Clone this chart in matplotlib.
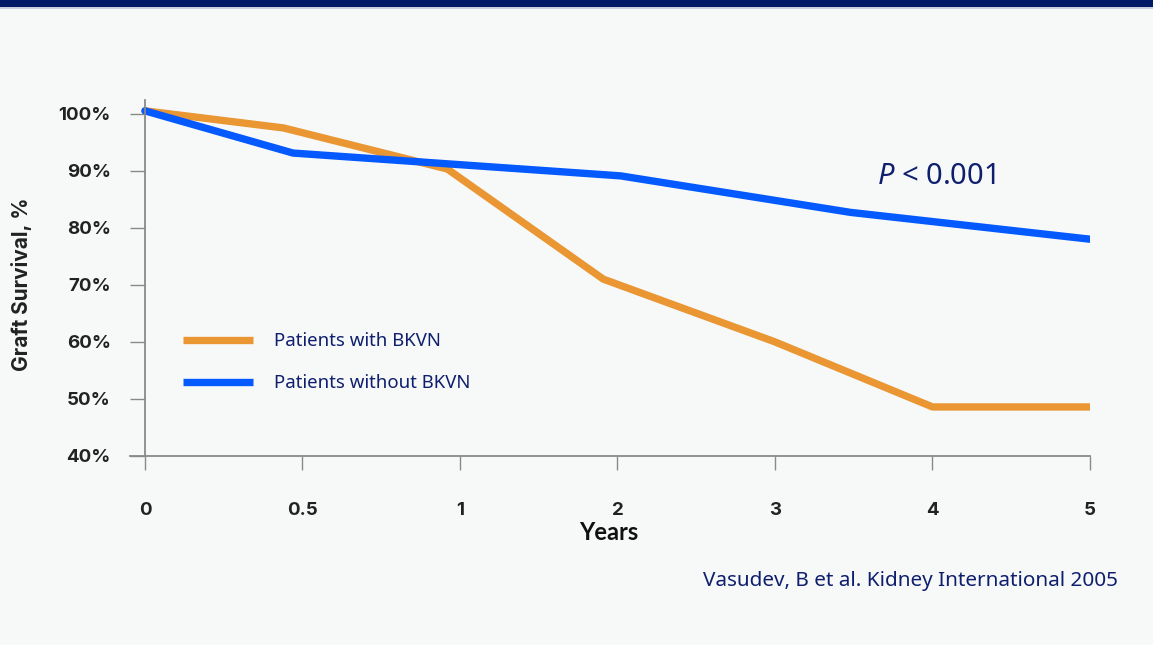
import numpy as np
import matplotlib
matplotlib.use("Agg")
import matplotlib.pyplot as plt
from matplotlib.patches import Rectangle

# axis ticks (unevenly spaced on the chart)
tick_years = [0, 0.5, 1, 2, 3, 4, 5]
tick_labels = ["0", "0.5", "1", "2", "3", "4", "5"]
y_ticks = [40, 50, 60, 70, 80, 90, 100]

bkvn_years = [0, 0.44, 0.96, 1.91, 3.0, 4.0, 5.02]
bkvn_surv = [100.5, 97.5, 90.3, 71.0, 60.0, 48.6, 48.6]

nobkvn_years = [0, 0.47, 2.02, 3.48, 5.0]
nobkvn_surv = [100.5, 93.1, 89.1, 82.7, 78.0]

ORANGE = "#E99633"
BLUE = "#0459FF"
NAVY = "#0F1F6E"
BG = "#F7F9F9"

plt.rcParams["mathtext.fontset"] = "custom"
plt.rcParams["mathtext.it"] = "Noto Sans:italic"
plt.rcParams["mathtext.rm"] = "Noto Sans"

tick_pos = np.arange(len(tick_years))


def to_pos(years):
    # map years onto the evenly spaced tick positions, allow a bit past the end
    years = np.asarray(years, dtype=float)
    p = np.interp(years, tick_years, tick_pos)
    over = years > tick_years[-1]
    p[over] = tick_pos[-1] + (years[over] - tick_years[-1])
    return p


W, H = 1153, 645
fig = plt.figure(figsize=(W / 100, H / 100), dpi=100, facecolor=BG)
fig.add_artist(Rectangle((0, 1 - 7 / H), 1, 7 / H, transform=fig.transFigure,
                         color="#001866", lw=0))
fig.add_artist(Rectangle((0, 1 - 9 / H), 1, 2 / H, transform=fig.transFigure,
                         color="#C9CFDE", lw=0))

ax = fig.add_axes([130 / W, (H - 456) / H, 960 / W, 356 / H])
ax.set_facecolor(BG)

ax.plot(to_pos(bkvn_years), bkvn_surv, color=ORANGE, lw=5.3,
        solid_capstyle="round", solid_joinstyle="round", label="Patients with BKVN")
ax.plot(to_pos(nobkvn_years), nobkvn_surv, color=BLUE, lw=5.3,
        solid_capstyle="round", solid_joinstyle="round", label="Patients without BKVN")

ax.set_xlim(-0.095, 6.0)
ax.set_ylim(40, 102.4)

for s in ["top", "right"]:
    ax.spines[s].set_visible(False)
ax.spines["left"].set_position(("data", 0))
for s in ["left", "bottom"]:
    ax.spines[s].set_color("#8A8A8A")
    ax.spines[s].set_linewidth(1.3)

ax.set_xticks(tick_pos)
ax.set_xticklabels(tick_labels)
ax.set_yticks(y_ticks)
ax.set_yticklabels([f"{v}%" for v in y_ticks])
ax.tick_params(axis="x", length=10, width=1, color="#8A8A8A", pad=23,
               labelsize=13.5, labelcolor="#222222")
ax.tick_params(axis="y", length=10.5, width=1, color="#8A8A8A", pad=14,
               labelsize=13.5, labelcolor="#222222")
for lab in ax.get_xticklabels() + ax.get_yticklabels():
    lab.set_fontfamily("Inter")
    lab.set_fontweight("bold")

fig.text(609 / W, 1 - 533 / H, "Years", ha="center", va="center",
         fontsize=17, fontweight="bold", family="Lato", color="#111111")
fig.text(22 / W, 1 - 284 / H, "Graft Survival, %", ha="center", va="center",
         rotation=90, fontsize=15, fontweight="bold", family="Inter", color="#222222")

leg = ax.legend(loc="upper left", bbox_to_anchor=(0.055, 0.348), frameon=False,
                fontsize=13.4, handlelength=3.76, handletextpad=1.13, labelspacing=1.3,
                borderpad=0, borderaxespad=0)
for t in leg.get_texts():
    t.set_color(NAVY)
    t.set_fontfamily("Noto Sans")
for h in leg.get_lines():
    h.set_solid_capstyle("butt")
    h.set_linewidth(5.3)

fig.text(877 / W, 1 - 176 / H, r"$\mathit{P}$ < 0.001", ha="left", va="center",
         fontsize=21, family="Noto Sans", color=NAVY)

fig.text(1118 / W, 1 - 581 / H, "Vasudev, B et al. Kidney International 2005",
         ha="right", va="center", fontsize=14.9, family="Noto Sans", color=NAVY)

fig.savefig("out.png", dpi=100, facecolor=BG)
